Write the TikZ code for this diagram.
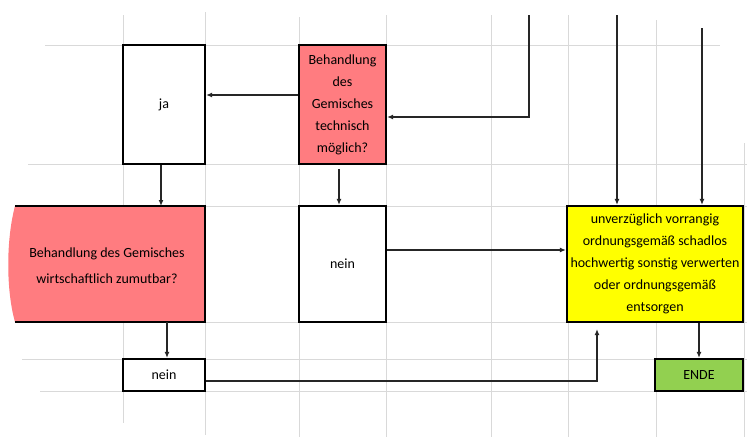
\documentclass[tikz,border=0pt]{standalone}
\usepackage{fontspec}
\setmainfont{Carlito}
\usetikzlibrary{arrows.meta}
\definecolor{gridgray}{HTML}{D9D9D9}
\definecolor{boxred}{HTML}{FF7C80}
\definecolor{boxyellow}{HTML}{FFFF00}
\definecolor{boxgreen}{HTML}{92D050}
\tikzset{
  gridline/.style={draw=gridgray, line width=1pt},
  box/.style={draw=black, line width=2.2pt, inner sep=0pt, align=center, font=\fontsize{14}{22}\selectfont},
  arr/.style={draw=black!85, line width=1.3pt, -{Latex[length=6pt,width=5pt]}},
  conn/.style={draw=black!85, line width=1.3pt}
}
\begin{document}
\begin{tikzpicture}[x=1pt,y=-1pt]
\useasboundingbox (0,0) rectangle (747,437);
\fill[white] (0,0) rectangle (747,437);
% grid
\foreach \x/\a/\b in {123/15/423,205/12/435,299/17/437,386/15/437,491/15/437,568/15/437,656/20/437,744/143/437}
  \draw[gridline] (\x,\a) -- (\x,\b);
\foreach \y/\a/\b in {45/45/720,164/28/747,206/15/747,322/15/747,359/22/747,391/40/747}
  \draw[gridline] (\a,\y) -- (\b,\y);
% nodes
\node[box, minimum width=82pt, minimum height=119pt] (ja) at (164,104.5) {ja};
\node[box, fill=boxred, minimum width=87pt, minimum height=119pt] (red1) at (342.5,104.5) {Behandlung\\des\\Gemisches\\technisch\\möglich?};
\fill[boxred] (15,206) .. controls (6,240) and (6,290) .. (15,322) -- (205,322) -- (205,206) -- cycle;
\node[inner sep=0pt, minimum width=190pt, minimum height=116pt, align=center, font=\fontsize{14}{26}\selectfont] (red2) at (107,266) {Behandlung des Gemisches\\wirtschaftlich zumutbar?};
\draw[black, line width=2.2pt] (15,206) -- (205,206) -- (205,322) -- (15,322);
\node[box, minimum width=87pt, minimum height=116pt] (nein2) at (342.5,264) {nein};
\node[box, minimum width=82pt, minimum height=32pt] (nein1) at (164,375) {nein};
\node[box, fill=boxyellow, minimum width=176pt, minimum height=116pt] (yellow) at (655,264) {unverzüglich vorrangig\\ordnungsgemäß schadlos\\hochwertig sonstig verwerten\\oder ordnungsgemäß\\entsorgen};
\node[box, fill=boxgreen, minimum width=88pt, minimum height=32pt] (ende) at (699,375) {ENDE};
% free ends
\coordinate (in1) at (529,15);
\coordinate (in2) at (617,15);
\coordinate (in3) at (702,28);
% connectors
\draw[arr] ([yshift=9.5pt]red1.west) -- ([yshift=9.5pt]red1.west -| ja.east);
\draw[arr] (in1) |- ([yshift=-12.5pt]red1.east);
\draw[arr] (in2) -- (in2 |- yellow.north);
\draw[arr] (in3) -- (in3 |- yellow.north);
\draw[arr] ([xshift=-3pt]ja.south) -- ([xshift=-3pt]ja.south |- 0,206);
\draw[arr] ([xshift=3pt]nein1.north |- 0,322) -- ([xshift=3pt]nein1.north);
\draw[arr] ([xshift=-3.5pt,yshift=-4pt]red1.south) -- ([xshift=-3.5pt]red1.south |- nein2.north);
\draw[arr] ([yshift=14pt]nein2.east) -- ([yshift=14pt]nein2.east -| yellow.west);
\draw[arr] ([yshift=-6pt]nein1.east) -| ([xshift=-58pt,yshift=-6pt]yellow.south);
\draw[arr] (ende.north |- yellow.south) -- (ende.north);
\end{tikzpicture}
\end{document}
